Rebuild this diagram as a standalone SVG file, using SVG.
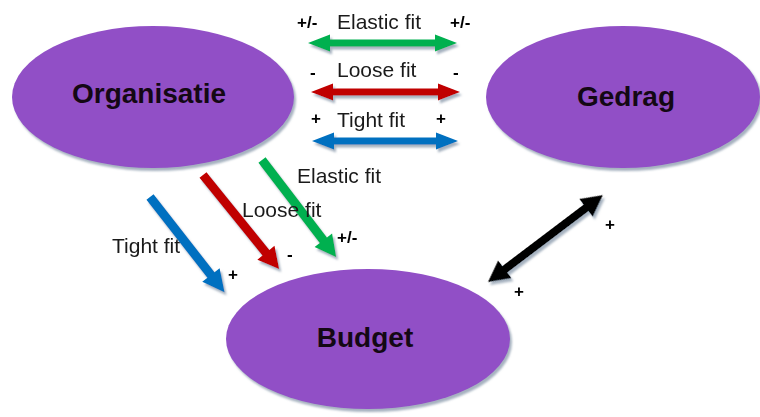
<svg xmlns="http://www.w3.org/2000/svg" width="760" height="417" viewBox="0 0 760 417">
  <defs>
    <filter id="sh" x="-20%" y="-20%" width="140%" height="140%">
      <feDropShadow dx="2" dy="3" stdDeviation="1.2" flood-color="#6b7f95" flood-opacity="0.6"/>
    </filter>
  </defs>
  <style>
    .node { fill: #914fc6; }
    .ntext { font-family: "Liberation Sans", Arial, sans-serif; font-weight: bold; font-size: 28px; fill: #140814; text-anchor: middle; }
    .lbl { font-family: "Liberation Sans", Arial, sans-serif; font-size: 21px; fill: #1a1a1a; }
    .sgn { font-family: "Liberation Sans", Arial, sans-serif; font-size: 17px; font-weight: bold; fill: #000; }
    .g { fill: #00b050; }
    .r { fill: #c00000; }
    .b { fill: #0070c0; }
    .k { fill: #000; }
  </style>
  <rect width="760" height="417" fill="#fff"/>

  <g id="node-organisatie">
    <ellipse class="node" cx="153" cy="97" rx="141" ry="71" filter="url(#sh)"/>
    <text class="ntext" x="149" y="103">Organisatie</text>
  </g>
  <g id="node-gedrag">
    <ellipse class="node" cx="623" cy="97" rx="137" ry="71" filter="url(#sh)"/>
    <text class="ntext" x="626" y="106">Gedrag</text>
  </g>
  <g id="node-budget">
    <ellipse class="node" cx="368" cy="339" rx="142" ry="70" filter="url(#sh)"/>
    <text class="ntext" x="365" y="347">Budget</text>
  </g>

  <g id="connectors" filter="url(#sh)">
    <path class="g" transform="translate(308,43)" d="M0,0 L22,-8.5 L22,-3.5 L127,-3.5 L127,-8.5 L149,0 L127,8.5 L127,3.5 L22,3.5 L22,8.5 Z"/>
    <path class="r" transform="translate(311,92)" d="M0,0 L22,-8.5 L22,-3.5 L127,-3.5 L127,-8.5 L149,0 L127,8.5 L127,3.5 L22,3.5 L22,8.5 Z"/>
    <path class="b" transform="translate(312,141)" d="M0,0 L22,-8.5 L22,-3.5 L124,-3.5 L124,-8.5 L146,0 L124,8.5 L124,3.5 L22,3.5 L22,8.5 Z"/>
    <path class="b" transform="translate(150,197) rotate(52)" d="M0,-4.5 L99,-4.5 L99,-11 L121,0 L99,11 L99,4.5 L0,4.5 Z"/>
    <path class="r" transform="translate(203,175) rotate(51)" d="M0,-4.5 L100,-4.5 L100,-11 L121,0 L100,11 L100,4.5 L0,4.5 Z"/>
    <path class="g" transform="translate(262,160) rotate(52.6)" d="M0,-4.5 L101,-4.5 L101,-11 L122,0 L101,11 L101,4.5 L0,4.5 Z"/>
    <path class="k" transform="translate(488,282) rotate(-37.1)" d="M0,0 L21,-11 L21,-4 L123,-4 L123,-11 L144,0 L123,11 L123,4 L21,4 L21,11 Z"/>
  </g>

  <g id="labels">
    <text class="sgn" x="297" y="28">+/-</text>
    <text class="lbl" x="337" y="29">Elastic fit</text>
    <text class="sgn" x="450" y="28">+/-</text>
    <text class="sgn" x="310" y="78">-</text>
    <text class="lbl" x="337" y="77">Loose fit</text>
    <text class="sgn" x="453" y="78">-</text>
    <text class="sgn" x="311" y="124">+</text>
    <text class="lbl" x="337" y="127">Tight fit</text>
    <text class="sgn" x="436" y="124">+</text>

    <text class="lbl" x="297" y="183">Elastic fit</text>
    <text class="lbl" x="242" y="217">Loose fit</text>
    <text class="lbl" x="112" y="253">Tight fit</text>
    <text class="sgn" x="228" y="280">+</text>
    <text class="sgn" x="287" y="260">-</text>
    <text class="sgn" x="337" y="243">+/-</text>
    <text class="sgn" x="605" y="230">+</text>
    <text class="sgn" x="514" y="297">+</text>
  </g>
</svg>
